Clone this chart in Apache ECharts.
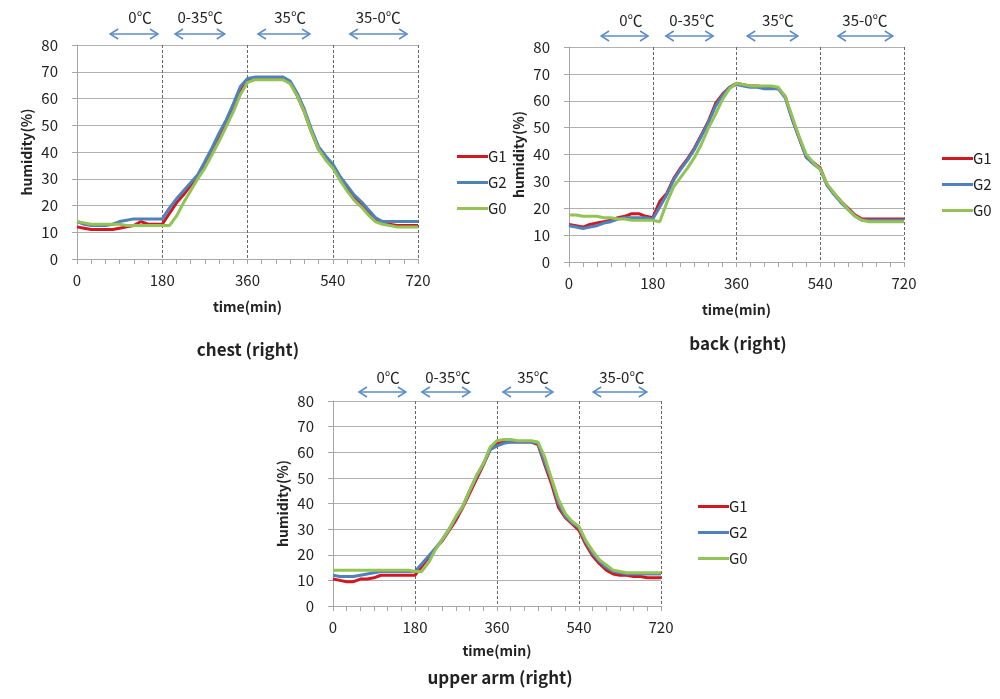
<!DOCTYPE html>
<html><head><meta charset="utf-8">
<script src="https://cdn.jsdelivr.net/npm/echarts@6/dist/echarts.min.js"></script>
<style>html,body{margin:0;padding:0;background:#fff}#c{width:1000px;height:699px}</style>
</head><body><div id="c"></div>
<script>
// time in minutes
const time = [0,15,30,45,60,75,90,105,120,135,150,165,180,195,210,225,240,255,270,285,300,315,330,345,360,375,390,405,420,435,450,465,480,495,510,525,540,555,570,585,600,615,630,645,660,675,690,705,720];

// chest (right)
const chestG1 = [12,11.5,11,11,11,11,11.5,12,12.5,14,13,13,13,17,21,24,27.5,31,35,40,45,50.5,56.5,62.5,67,67.5,67.5,67.5,67.5,67.5,66,61,55,47.5,41,37.5,34.5,30,26.5,23,20.5,17.5,15,13.5,13,12.5,12.5,12.5,12.5];
const chestG2 = [14,13,12.5,12.5,12.5,13,14,14.5,15,15,15,15,15,19,22.5,25.5,28.5,31.5,36.5,41.5,47,52,58,64.5,67.5,68,68,68,68,68,66.5,62,56,48.5,42,38.5,35.5,31,27.5,24,21.5,18.5,15.5,14,14,14,14,14,14];
const chestG0 = [14,13.5,13,13,13,13,13,12.5,12.5,12.5,12.5,12.5,12.5,12.5,16,21,25.5,30,34,39,44,49.5,55,61.5,66,67,67,67,67,67,65.5,61,55,47.5,41,37,34,29.5,25.5,22,19.5,16.5,14,13,12.5,12,12,12,12];

// back (right)
const backG1 = [14,13.5,13,14,14.5,15,15.5,16.5,17,18,18,17,16.5,22.5,25.5,31,35,38.5,42.5,47.5,52.5,59,62.5,65,66.5,66,65.5,65.5,65,65,64.5,61.5,53,46,39,37,35,28.5,25.5,22.5,20,17.5,16,16,16,16,16,16,16];
const backG2 = [13.5,13,12.5,13,13.5,14.5,15,16,16.5,16.5,16.5,16.5,16,20.5,25,30.5,34.5,38,42,47,52,58,62,65,66,65.5,65,65,64.5,64.5,64.5,61,53,46,39,36.5,34.5,28.5,25,22,19.5,17,15.5,15.5,15.5,15.5,15.5,15.5,15.5];
const backG0 = [17.5,17.5,17,17,17,16.5,16.5,16,16,15.5,15.5,15.5,15.5,15,22,28,31.5,35,39,44,50,55,60.5,64.5,66.5,66,65.5,65.5,65.5,65.5,65,61.5,54,46.5,40,37,34.5,29,25.5,22.5,19.5,17,15.5,15,15,15,15,15,15];

// upper arm (right)
const armG1 = [10.5,10,9.5,9.5,10.5,10.5,11,12,12,12,12,12,12,15.5,19,22.5,25.5,29.5,33.5,38.5,44,49.5,55,61,63.5,64,64,64,64,64,63,55,47.5,38.5,34.5,32,29.5,24,19.5,16.5,14,12.5,12,12,11.5,11.5,11,11,11];
const armG2 = [12,11.5,11.5,11.5,12,12.5,13,13.5,13.5,13.5,13.5,13.5,13.5,16.5,19.5,22.5,26,30,34.5,39,45,50.5,55.5,61,62.5,63.5,64,64,64,64,63.5,56,49,40,35,32.5,30.5,25,20.5,17.5,15,13.5,13,12.5,12.5,12.5,12.5,12.5,12.5];
const armG0 = [14,14,14,14,14,14,14,14,14,14,14,14,13.5,13.5,17,22,26,30,35,39,45,51,55.5,62,64.5,65,65,64.5,64.5,64.5,64,58,49.5,41.5,36,33,31,25.5,21.5,18,16,14,13.5,13,13,13,13,13,13];

const seriesNames = ['G1','G2','G0'];
const chartTitles = ['chest (right)','back (right)','upper arm (right)'];
const xTicks = [0,180,360,540,720];
const phaseLabels = ['0℃','0-35℃','35℃','35-0℃'];
const phaseArrows = [
  [[70,171],[207,312],[382,492],[576,697]],
  [[69,170],[208,310],[383,492],[578,696]],
  [[57,160],[195,301],[373,483],[571,689]]
];
const phaseLabelX = [[133,260,450,636],[133,264,449,636],[121,252,439,634]];

const panels = [[chestG1,chestG2,chestG0],[backG1,backG2,backG0],[armG1,armG2,armG0]];
const colors = ['#d01820','#4f81bd','#92c354'];
const FONT = '"Noto Sans CJK KR", "Noto Sans", sans-serif';

const grids = [
  {left:77, top:45, width:341, height:214},
  {left:569, top:47, width:335, height:215},
  {left:333, top:401, width:328, height:205}
];
const legendPos = [{left:452, top:144},{left:937, top:146},{left:693, top:494}];
const titlePos = [[248,350],[738,344],[500,678]];

const chart = echarts.init(document.getElementById('c'));

const xAxes = grids.map((g,i)=>({
  type:'value', gridIndex:i, min:0, max:720, interval:180,
  name:'time(min)', nameLocation:'middle', nameGap: i===2?38:41,
  nameTextStyle:{fontFamily:FONT, fontWeight:'bold', fontSize:14, color:'#222'},
  axisLine:{show:true, lineStyle:{color:'#a6a6a6', width:1}},
  axisTick:{show:true, length:5, lineStyle:{color:'#a6a6a6'}},
  minorTick:{show:true, splitNumber:6, length:5, lineStyle:{color:'#a6a6a6'}},
  axisLabel:{fontFamily:FONT, fontSize:15, color:'#222', margin:14},
  splitLine:{show:true, lineStyle:{color:'#666', type:[3,2], width:1}}
}));
const yAxes = grids.map((g,i)=>({
  type:'value', gridIndex:i, min:0, max:80, interval:10,
  name:'humidity(%)', nameLocation:'middle', nameGap:43, nameRotate:90,
  nameTextStyle:{fontFamily:FONT, fontWeight:'bold', fontSize:14, color:'#222'},
  axisLine:{show:true, lineStyle:{color:'#a6a6a6', width:1}},
  axisTick:{show:true, length:5, lineStyle:{color:'#a6a6a6'}},
  axisLabel:{fontFamily:FONT, fontSize:15, color:'#222', margin:19},
  splitLine:{show:true, lineStyle:{color:'#b0b0b0', width:1}}
}));

const series = [];
panels.forEach((arrs,p)=>{
  arrs.forEach((vals,k)=>{
    series.push({
      type:'line', name:seriesNames[k], xAxisIndex:p, yAxisIndex:p,
      showSymbol:false, symbol:'none', animation:false,
      lineStyle:{color:colors[k], width:3}, itemStyle:{color:colors[k]},
      data: time.map((t,j)=>[t, vals[j]])
    });
  });
});

const legends = legendPos.map(lp=>({
  left:lp.left, top:lp.top, orient:'vertical', data:seriesNames,
  icon:'rect', itemWidth:31, itemHeight:3, itemGap:11,
  textStyle:{fontFamily:FONT, fontSize:15, color:'#222', padding:[0,0,0,-5]}
}));

chart.setOption({
  animation:false,
  grid: grids,
  xAxis: xAxes,
  yAxis: yAxes,
  legend: legends,
  series: series
});

// annotations: titles, phase labels and arrows positioned from axis scales
const graphics = [];
chartTitles.forEach((t,i)=>{
  graphics.push({type:'text', x:titlePos[i][0], y:titlePos[i][1], silent:true,
    style:{text:t, font:'bold 17px '+FONT, fill:'#222', align:'center', verticalAlign:'middle'}});
});
const arrowOff = [11,11,9];
const labelOff = [28,27,24];
const arrowColor = '#5b8cc6';
phaseArrows.forEach((arrows,i)=>{
  const topY = chart.convertToPixel({gridIndex:i}, [0,80])[1];
  const ay = topY - arrowOff[i];
  arrows.forEach((a,k)=>{
    const x1 = chart.convertToPixel({gridIndex:i}, [a[0],80])[0];
    const x2 = chart.convertToPixel({gridIndex:i}, [a[1],80])[0];
    const ls = {stroke:arrowColor, lineWidth:1.5, fill:null};
    graphics.push({type:'polyline', silent:true, shape:{points:[[x1,ay],[x2,ay]]}, style:ls});
    graphics.push({type:'polyline', silent:true, shape:{points:[[x1+8,ay-5],[x1,ay],[x1+8,ay+5]]}, style:ls});
    graphics.push({type:'polyline', silent:true, shape:{points:[[x2-8,ay-5],[x2,ay],[x2-8,ay+5]]}, style:ls});
    const lx = chart.convertToPixel({gridIndex:i}, [phaseLabelX[i][k],80])[0];
    graphics.push({type:'text', x:lx, y:topY-labelOff[i], silent:true,
      style:{text:phaseLabels[k], font:'15px '+FONT, fill:'#222', align:'center', verticalAlign:'middle'}});
  });
});
chart.setOption({graphic: graphics});
</script></body></html>
